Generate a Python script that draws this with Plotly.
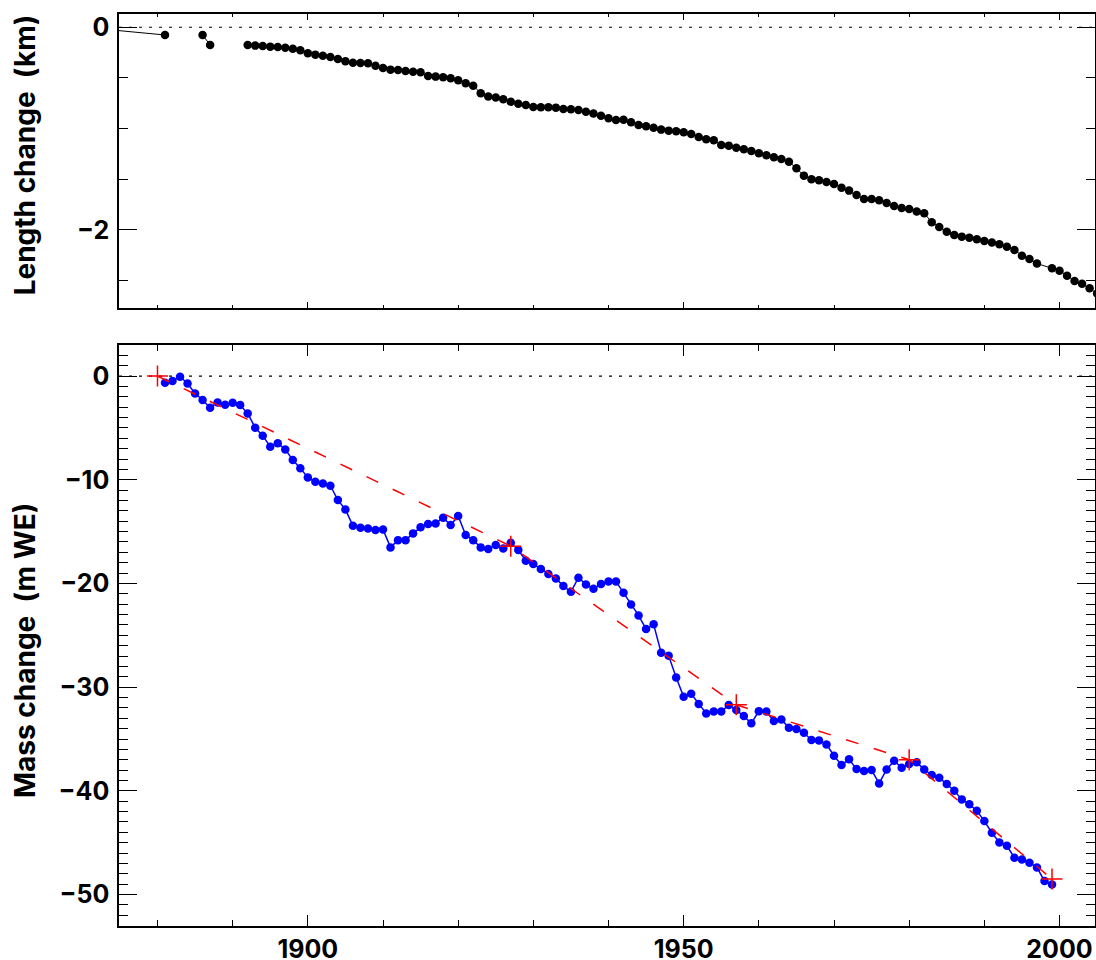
import plotly.graph_objects as go

# ---------------- data ----------------
# Length change (km); None marks missing years (line breaks)
len_years = [1874, 1881, 1882, 1886, 1887, 1888] + list(range(1892, 1998)) + list(range(1999, 2006))
len_values = [-0.027, -0.076, None, -0.076, -0.175, None,
              -0.175, -0.181, -0.184, -0.191, -0.194, -0.201, -0.211, -0.227,
              -0.257, -0.270, -0.280, -0.293, -0.313, -0.335, -0.349, -0.352, -0.355, -0.379,
              -0.401, -0.418, -0.421, -0.431, -0.438, -0.444, -0.480, -0.487, -0.493, -0.503,
              -0.523, -0.552, -0.576, -0.651, -0.684, -0.694, -0.710, -0.734, -0.754, -0.767,
              -0.786, -0.789, -0.789, -0.793, -0.806, -0.809, -0.816, -0.833, -0.852, -0.872,
              -0.898, -0.915, -0.912, -0.937, -0.964, -0.977, -0.991, -1.010, -1.020, -1.026,
              -1.036, -1.053, -1.082, -1.105, -1.115, -1.161, -1.168, -1.188, -1.204, -1.220,
              -1.243, -1.263, -1.283, -1.301, -1.326, -1.391, -1.464, -1.499, -1.509, -1.526,
              -1.546, -1.583, -1.612, -1.655, -1.694, -1.694, -1.707, -1.734, -1.763, -1.783,
              -1.793, -1.819, -1.835, -1.924, -1.970, -2.017, -2.049, -2.066, -2.076, -2.092,
              -2.109, -2.125, -2.141, -2.165, -2.197, -2.254, -2.286, -2.332,
              -2.378, -2.402, -2.451, -2.503, -2.530, -2.575, -2.627]

# Cumulative mass change (m WE)
mass_years = list(range(1881, 2000))
mass_values = [-0.64, -0.48, -0.06, -0.71, -1.67, -2.31, -3.05, -2.54, -2.76,
               -2.57, -2.80, -3.60, -4.98, -5.75, -6.81, -6.49, -7.07, -8.10, -8.90,
               -9.77, -10.19, -10.35, -10.58, -11.96, -12.86, -14.44, -14.63, -14.69, -14.85,
               -14.79, -16.52, -15.82, -15.82, -15.17, -14.59, -14.27, -14.21, -13.66, -14.37,
               -13.50, -15.33, -15.82, -16.52, -16.68, -16.30, -16.62, -16.07, -16.78, -17.81,
               -18.13, -18.61, -19.09, -19.51, -20.25, -20.80, -19.45, -20.09, -20.51, -20.06,
               -19.80, -19.80, -20.90, -22.02, -23.08, -24.40, -23.94, -26.68, -26.97, -29.06,
               -30.93, -30.64, -31.63, -32.53, -32.34, -32.34, -31.73, -32.21, -32.79, -33.49,
               -32.31, -32.34, -33.27, -33.11, -33.92, -34.04, -34.40, -35.10, -35.13, -35.52,
               -36.61, -37.51, -36.96, -37.90, -38.09, -37.99, -39.28, -37.93, -37.10, -37.77,
               -37.42, -37.25, -37.93, -38.48, -38.73, -39.34, -39.99, -40.82, -41.30, -41.92,
               -42.91, -44.04, -44.97, -45.29, -46.45, -46.61, -46.93, -47.38, -48.70, -49.02]

# Geodetic reference points (m WE)
geo_years = [1880, 1927, 1957, 1980, 1999]
geo_values = [0.0, -16.4, -31.7, -37.0, -48.5]

top_title = "Length change\u00a0\u00a0(km)"
bottom_title = "Mass change\u00a0\u00a0(m WE)"

# ---------------- figure ----------------
FONT = "Inter"
fig = go.Figure()

fig.add_trace(go.Scatter(
    x=len_years, y=len_values, mode="lines+markers", connectgaps=False,
    line=dict(color="black", width=1),
    marker=dict(color="black", size=8.5),
    xaxis="x", yaxis="y", showlegend=False))

fig.add_trace(go.Scatter(
    x=mass_years, y=mass_values, mode="lines+markers",
    line=dict(color="#0000ff", width=1.5),
    marker=dict(color="#0000ff", size=8.5),
    xaxis="x2", yaxis="y2", showlegend=False))

fig.add_trace(go.Scatter(
    x=geo_years, y=geo_values, mode="lines",
    line=dict(color="#ff0000", width=1.5, dash="13px,16px"),
    xaxis="x2", yaxis="y2", showlegend=False))

fig.add_trace(go.Scatter(
    x=geo_years, y=geo_values, mode="markers",
    marker=dict(symbol="cross-thin", size=15, line=dict(color="#ff0000", width=1.5)),
    xaxis="x2", yaxis="y2", showlegend=False))

xrange = [1874.88, 2004.72]
tickfont = dict(family=FONT, size=25, color="black", weight="bold")

common = dict(showgrid=False, zeroline=False, showline=True, linecolor="black",
              linewidth=1.5, mirror="ticks", ticks="inside", tickcolor="black",
              tickwidth=1.2, tickfont=tickfont, automargin=False)

fig.update_layout(
    width=1096, height=960,
    margin=dict(l=119, r=1, t=14, b=34),
    paper_bgcolor="white", plot_bgcolor="white",
    xaxis=dict(domain=[0, 1], anchor="y", range=xrange, tick0=1900, dtick=50,
               ticklen=6, showticklabels=False,
               minor=dict(dtick=10, ticklen=3, ticks="inside", tickcolor="black", tickwidth=1.2),
               **common),
    yaxis=dict(domain=[0.678, 1], anchor="x", range=[-2.767, 0.131], tick0=0, dtick=2,
               ticklen=18, ticklabelstandoff=3,
               minor=dict(dtick=0.5, ticklen=9, ticks="inside", tickcolor="black", tickwidth=1.2),
               **common),
    xaxis2=dict(domain=[0, 1], anchor="y2", range=xrange, tick0=1900, dtick=50,
                ticklen=11, ticklabelstandoff=0,
                minor=dict(dtick=10, ticklen=6, ticks="inside", tickcolor="black", tickwidth=1.2),
                **common),
    yaxis2=dict(domain=[0, 0.637], anchor="x2", range=[-53.03, 2.99], tick0=0, dtick=10,
                ticklen=18, ticklabelstandoff=3,
                minor=dict(dtick=1, ticklen=9, ticks="inside", tickcolor="black", tickwidth=1.2),
                **common),
)

# dotted zero lines
for yref in ("y", "y2"):
    fig.add_shape(type="line", xref="paper", x0=0, x1=1, yref=yref, y0=0, y1=0,
                  line=dict(color="black", width=1.2, dash="3px,7px"), layer="below")

# axis titles (rotated)
titlefont = dict(family=FONT, size=28, color="black", weight="bold")
fig.add_annotation(text=top_title, xref="paper", yref="paper", x=-0.0963, y=0.845,
                   textangle=-90, showarrow=False, font=titlefont,
                   xanchor="center", yanchor="middle")
fig.add_annotation(text=bottom_title, xref="paper", yref="paper", x=-0.0963, y=0.3015,
                   textangle=-90, showarrow=False, font=titlefont,
                   xanchor="center", yanchor="middle")

fig.write_html("out.html", config={"displayModeBar": False},
               post_script="document.body.style.margin='0';document.body.style.overflow='hidden';")
